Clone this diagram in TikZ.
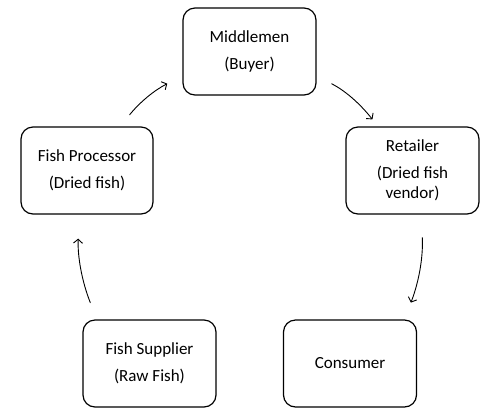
\documentclass[tikz,border=0pt]{standalone}
\usepackage{fontspec}
\setmainfont{Carlito}
\usetikzlibrary{arrows.meta}
\begin{document}
\begin{tikzpicture}[x=1pt,y=-1pt, line join=round, line cap=round, >={Straight Barb[length=4pt,width=9pt]},
		font=\fontsize{17}{20}\selectfont,
		stage/.style={draw, line width=1.2pt, rounded corners=12pt, minimum width=133pt, minimum height=87pt, align=center, inner sep=0pt},
		flow/.style={->, line width=.9pt, bend left=12}]
			\def\gap{7pt}
			\useasboundingbox (0,0) rectangle (500,416);
			\node[stage] (mid) at (249.5,51.5) {Middlemen\\[\gap](Buyer)};
			\node[stage] (ret) at (412.5,170.5) {Retailer\\[\gap](Dried fish\\vendor)};
			\node[stage] (con) at (350,363.5) {Consumer};
			\node[stage] (sup) at (149.5,363.5) {Fish Supplier\\[\gap](Raw Fish)};
			\node[stage, minimum width=132pt] (pro) at (87,170.5) {Fish Processor\\[\gap](Dried fish)};
			
			\draw[flow, shorten <=15pt, shorten >=17pt] (pro.53) to (mid.200);
			\draw[flow, shorten <=17pt, shorten >=9pt] (mid.340) to (ret.128);
			\draw[flow, shorten <=23pt, shorten >=18pt] (ret.281) to (con.39);
			\draw[flow, shorten <=18pt, shorten >=24pt] (sup.140) to (pro.260);
		\end{tikzpicture}
\end{document}
